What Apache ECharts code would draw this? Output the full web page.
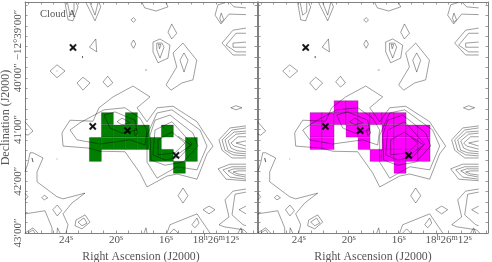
<!DOCTYPE html>
<html><head><meta charset="utf-8">
<style>html,body{margin:0;padding:0;background:#fff}#c{width:492px;height:262px}</style>
<script src="https://cdn.jsdelivr.net/npm/echarts@6/dist/echarts.min.js"></script>
</head><body><div id="c"></div>
<script>
// Right ascension in seconds (18h26m + value), declination in arcminutes (-12 deg + value)
const raTickLabels = [24, 20, 16, 12];
const raTicks = [27,26,25,24,23,22,21,20,19,18,17,16,15,14,13,12,11,10,9];
const decTickLabels = [39, 40, 41, 42, 43];
const decTicks = [38.6,38.8,39,39.2,39.4,39.6,39.8,40,40.2,40.4,40.6,40.8,41,41.2,41.4,41.6,41.8,42,42.2,42.4,42.6,42.8,43];
const raCols = {a:21.65,b:20.69,c:19.73,d:18.77,e:17.81,f:16.85,g:15.89,h:14.93,i:13.97,z:22.61};
const decRows = [40.56,40.79,41.03,41.27,41.50,41.73];
const cellRa = 0.96, cellDec = 0.2325;
// cells: row index -> column letters
const greenCells = ['', 'bd', 'bcdeg', 'abcdefi', 'afgi', 'h'];
const magentaCells = ['bc', 'zabcdefg', 'zacdfghi', 'zadfghi', 'efghi', 'g'];
const sources = [[23.44,39.415],[21.86,40.94],[19.08,41.02],[15.2,41.50]];

const openLines = [
 [[24.08,38.55],[23.84,38.88],[23.44,38.90],[23.04,38.63],[23.2,38.55]],
 [[23.88,38.55],[23.68,38.79],[23.36,38.73],[23.36,38.55]],
 [[22.4,38.55],[21.68,38.90],[21.22,38.63],[21.36,38.55]],
 [[22.08,38.55],[21.68,38.79],[21.44,38.55]],
 [[17.92,38.55],[17.70,38.65],[16.8,38.71],[15.84,38.63],[16,38.55]],
 [[11.28,38.55],[11.84,38.59],[12.08,38.79],[11.6,38.96],[10.96,38.77],[9.6,38.78]],
 [[10.88,38.55],[10.56,38.63],[9.6,38.65]],
 [[9.6,39.04],[10.64,39.08],[11.52,39.33],[10.64,39.56],[9.6,39.56]],
 [[9.6,39.14],[10.4,39.14],[11.2,39.37],[10.4,39.50],[9.6,39.50]],
 [[9.6,39.31],[10.64,39.33],[10.64,39.41],[9.6,39.41]],
 [[24.76,39.87],[24.68,39.87]],
 [[24.76,41.57],[24.68,41.57]],
 [[27.28,41.82],[27.04,41.65],[26.88,41.45],[26.64,41.45],[25.84,41.55],[26.32,41.82],[26.32,42.01],[24.72,42.30],[24.24,42.34],[22.48,42.23],[23.52,42.42],[24.24,42.63],[23.84,42.84],[24,43]],
 [[27.28,42.63],[25.68,42.57],[25.12,42.90],[25.12,43]],
 [[27.28,40.85],[26.64,41.03],[27.04,41.11],[27.28,41.09]],
 [[27.28,42.23],[27.04,42.30],[27.28,42.36]],
 [[24.72,43],[24.68,42.90],[24.48,43]],
 [[17.76,43],[17.6,42.90],[17.52,43]],
 [[27.28,43],[26.64,42.90],[26.24,43]],
 [[27.04,43],[26.64,42.94],[26.48,43]],
 [[15.92,43],[15.68,42.84],[13.52,42.63],[12.48,43]],
 [[15.68,43],[15.36,42.92],[15.04,43]],
 [[9.6,42.15],[10.64,42.19],[11.28,42.36],[10.96,42.69],[11.76,42.84],[11.36,42.88],[9.76,42.94],[9.52,43]],
 [[9.6,42.21],[10.48,42.25],[10.72,42.65],[9.84,42.84],[9.6,42.86]],
 [[9.6,42.48],[10.16,42.55],[9.6,42.63]],
 [[10.24,43],[10,42.90],[9.84,43]],
 [[9.6,40.93],[10.88,40.97],[11.76,41.20],[11.52,41.40],[10.72,41.55],[9.6,41.55]],
 [[9.6,40.97],[10.72,41.01],[11.52,41.20],[11.28,41.40],[10.64,41.49],[9.6,41.51]],
 [[9.6,41.03],[10.56,41.05],[11.28,41.20],[11.04,41.40],[10.48,41.45],[9.6,41.47]],
 [[9.6,41.07],[10.4,41.09],[11.04,41.22],[10.8,41.36],[10.32,41.41],[9.6,41.43]],
 [[9.6,41.14],[10.24,41.14],[10.8,41.26],[10.56,41.32],[9.6,41.38]],
 [[9.6,41.22],[10.4,41.26],[9.6,41.32]],
 [[9.6,41.67],[10.88,41.67],[11.84,41.76],[11.2,41.96],[9.6,41.99]],
 [[9.6,41.72],[10.72,41.72],[11.44,41.78],[10.88,41.92],[9.6,41.96]],
 [[9.6,41.76],[10.56,41.76],[11.04,41.80],[10.48,41.88],[9.6,41.92]],
 [[9.6,41.80],[10.24,41.80],[10.64,41.82],[10.24,41.86],[9.6,41.88]],
 [[15.04,41.13],[14,41.30],[14.88,41.45]]
];
const closedLoops = [
 [[18.8,38.88],[18.6,38.84],[18.42,38.88],[18.6,38.93]],
 [[11.7,38.85],[11.58,38.75],[11.38,38.88],[11.58,38.93]],
 [[15.84,39.12],[15.54,38.96],[15.14,39.14],[15.54,39.25]],
 [[17.04,39.31],[16.48,39.25],[15.68,39.37],[15.84,39.62],[16.64,39.71],[17.04,39.50]],
 [[16.74,39.33],[16.32,39.33],[16.16,39.41],[16.48,39.62],[16.74,39.46]],
 [[16.6,39.35],[16.4,39.36],[16.52,39.44]],
 [[15.44,39.52],[14.64,39.33],[13.54,39.66],[13.84,40.04],[14.72,40.10],[15.6,40.24],[16,40.14],[15.14,39.79]],
 [[14.88,39.66],[14.56,39.52],[14.24,39.66],[14.56,39.89]],
 [[18.8,39.35],[18.6,39.27],[18.42,39.35],[18.6,39.43]],
 [[22.12,39.41],[21.62,39.25],[21.54,39.50]],
 [[22.68,39.58],[22.56,39.60],[22.68,39.62],[22.8,39.60]],
 [[17.68,39.85],[17.6,39.83],[17.52,39.85],[17.6,39.87]],
 [[25.28,39.87],[24.72,39.75],[24.08,39.87],[24.72,40.00]],
 [[23.12,40.10],[22.64,39.99],[22.08,40.10],[22.64,40.24]],
 [[21.04,40.08],[20.66,39.97],[20.26,40.10],[20.66,40.18]],
 [[10.82,40.58],[10.4,40.54],[9.92,40.58],[10.4,40.62]],
 [[24.24,41.03],[23.68,40.82],[21.84,40.84],[21.36,40.58],[20.24,40.37],[18.64,40.16],[17.28,40.37],[18.32,40.58],[17.52,40.85],[16.72,40.58],[15.44,40.55],[13.52,40.85],[13.04,41.03],[12.24,41.32],[12.72,41.47],[13.52,41.96],[15.12,41.86],[15.92,41.90],[17.52,42.11],[18.08,41.84],[19.28,41.43],[21.28,41.42],[22.16,41.36],[24.24,41.32],[24.32,41.07]],
 [[22.88,40.87],[20.96,40.62],[19.28,40.58],[18.08,40.78],[17.52,41.01],[17.68,41.30],[18.88,41.20],[21.28,41.28],[23.12,41.20],[23.68,41.01]],
 [[20.96,40.72],[20.08,40.66],[18.48,40.82],[18.32,41.01],[19.52,41.07],[20.48,40.97]],
 [[19.92,40.85],[19.52,40.78],[18.88,40.87],[19.52,40.91]],
 [[18.56,41.01],[18.4,40.97],[18.24,41.07],[18.48,41.12]],
 [[16.72,40.68],[15.52,40.62],[13.28,41.01],[12.72,41.32],[13.52,41.78],[15.12,41.72],[16.72,41.94],[17.52,41.63],[17.52,41.11]],
 [[16.88,40.82],[15.68,40.72],[13.84,41.07],[13.44,41.32],[14.64,41.63],[16.08,41.69],[17.2,41.59],[17.28,41.11]],
 [[16.88,41.01],[15.52,40.85],[13.92,41.28],[14.88,41.53],[16.08,41.59],[17.04,41.49]],
 [[16.64,41.20],[15.52,41.05],[14.48,41.26],[15.28,41.45],[16.64,41.49]],
 [[26.72,41.55],[26.56,41.55],[26.64,41.63]],
 [[25.94,42.32],[25.74,42.27],[25.46,42.32],[25.74,42.36]],
 [[25.06,42.55],[24.70,42.46],[24.34,42.57],[24.70,42.67]],
 [[23.2,42.75],[22.48,42.65],[22.08,42.79],[22.72,42.92],[23.28,42.86]],
 [[23.04,42.79],[22.56,42.71],[22.32,42.81],[22.72,42.86]],
 [[13.92,42.84],[13.52,42.71],[13.36,42.81],[13.68,42.90]],
 [[15.04,42.28],[14.64,42.13],[14.24,42.28],[14.64,42.42]],
 [[13.04,42.55],[12.56,42.48],[12.08,42.55],[12.56,42.63]]
];

const FONT = 'Liberation Serif';
const INK = '#555555';
const FRAME = '#808080';
const contourData = [];
openLines.forEach(l => { l.forEach(p => contourData.push(p)); contourData.push(null); });
closedLoops.forEach(l => { l.concat([l[0]]).forEach(p => contourData.push(p)); contourData.push(null); });

function cellsToData(rows) {
  const out = [];
  rows.forEach((cols, r) => cols.split('').forEach(c => out.push([raCols[c], decRows[r]])));
  return out;
}
const sup = {fontFamily: FONT, fontSize: 8, color: INK, padding: [0, 0, 4, 0], verticalAlign: 'bottom'};
const base = {fontFamily: FONT, fontSize: 11, color: INK, verticalAlign: 'bottom'};
function raLabel(v) {
  if (Math.round(v) === 12) return '{b|18}{s|h}{b|26}{s|m}{b|12}{s|s}';
  return '{b|' + Math.round(v) + '}{s|s}';
}
function decLabel(v) {
  if (Math.round(v) === 39) return '{f|\u221212\u00b039\u203200\u2033}';
  return '{b|' + Math.round(v) + '\u203200\u2033}';
}
function xAxes(grid, min, max) {
  const common = {type: 'value', gridIndex: grid, inverse: true, min: max, max: min, splitLine: {show: false},
    axisLine: {show: true, onZero: false, lineStyle: {color: FRAME, width: 1}},
    axisTick: {show: true, inside: true, length: 2.5, customValues: raTicks, lineStyle: {color: FRAME, width: 0.8}}};
  return [
    Object.assign({}, common, {position: 'bottom',
      name: 'Right Ascension (J2000)', nameLocation: 'middle', nameGap: 15,
      nameTextStyle: {fontFamily: FONT, fontSize: 11.8, color: INK},
      axisLabel: {show: true, customValues: raTickLabels, margin: 1, hideOverlap: false, formatter: raLabel, rich: {b: base, s: sup}}}),
    Object.assign({}, common, {position: 'top', axisLabel: {show: false}})
  ];
}
function yAxes(grid, withLabels) {
  const common = {type: 'value', gridIndex: grid, inverse: true, min: 38.536, max: 43, splitLine: {show: false},
    axisLine: {show: true, onZero: false, lineStyle: {color: FRAME, width: 1}},
    axisTick: {show: true, inside: true, length: 2.5, customValues: decTicks, lineStyle: {color: FRAME, width: 0.8}}};
  const left = Object.assign({}, common, {position: 'left', axisLabel: {show: false}});
  if (withLabels) {
    left.name = 'Declination (J2000)';
    left.nameLocation = 'middle';
    left.nameGap = 13;
    left.nameRotate = 90;
    left.nameTextStyle = {fontFamily: FONT, fontSize: 12, color: INK};
    left.axisLabel = {show: true, rotate: 90, margin: 1, customValues: decTickLabels, hideOverlap: false, formatter: decLabel,
      rich: {b: base, f: Object.assign({}, base, {padding: [0, 18, 0, 0]})}};
  }
  return [left, Object.assign({}, common, {position: 'right', axisLabel: {show: false}})];
}
function cellRender(fill) {
  return function (params, api) {
    const a = api.coord([api.value(0) + cellRa / 2, api.value(1) - cellDec / 2]);
    const b = api.coord([api.value(0) - cellRa / 2, api.value(1) + cellDec / 2]);
    return {type: 'rect', shape: {x: a[0], y: a[1], width: b[0] - a[0], height: b[1] - a[1]},
      style: {fill: fill, stroke: 'rgba(0,0,0,0.3)', lineWidth: 0.7}};
  };
}
function panelSeries(ax, cells, fill) {
  return [
    {type: 'custom', xAxisIndex: ax, yAxisIndex: ax, data: cellsToData(cells), renderItem: cellRender(fill),
     encode: {x: 0, y: 1}, clip: true, silent: true, animation: false, z: 2},
    {type: 'line', xAxisIndex: ax, yAxisIndex: ax, data: contourData, symbol: 'none', connectNulls: false, clip: true,
     silent: true, animation: false, z: 3, lineStyle: {color: 'rgba(0,0,0,0.48)', width: 0.8}},
    {type: 'scatter', xAxisIndex: ax, yAxisIndex: ax, data: sources, silent: true, animation: false, z: 4,
     symbol: 'path://M1 0L5 4L9 0L10 1L6.2 5L10 9L9 10L5 6.2L1 10L0 9L3.8 5L0 1Z', symbolSize: 6,
     itemStyle: {color: '#000', borderColor: '#000', borderWidth: 1.2}}
  ];
}
const chart = echarts.init(document.getElementById('c'), null, {renderer: 'canvas'});
chart.setOption({
  animation: false,
  backgroundColor: '#fff',
  title: {text: 'Cloud A', left: 35, top: 4, textStyle: {fontFamily: FONT, fontWeight: 'normal', fontSize: 10.5, color: INK}},
  grid: [
    {left: 25, top: 2, width: 232, height: 231, outerBoundsMode: 'none', containLabel: false},
    {left: 258, top: 2, width: 230, height: 231, outerBoundsMode: 'none', containLabel: false}
  ],
  xAxis: [...xAxes(0, 27.28, 8.72), ...xAxes(1, 27.256, 8.856)],
  yAxis: [...yAxes(0, true), ...yAxes(1, false)],
  series: [...panelSeries(0, greenCells, '#007f00'), ...panelSeries(2, magentaCells, '#ff00ff')]
});
</script></body></html>
